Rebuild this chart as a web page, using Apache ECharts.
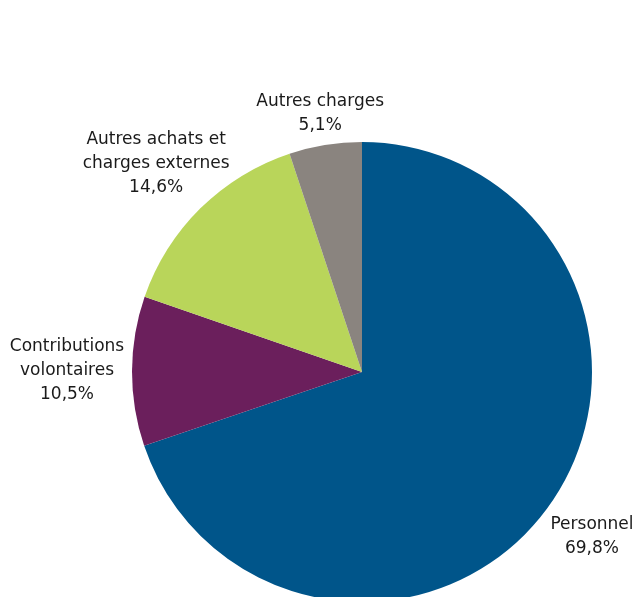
<!DOCTYPE html>
<html>
<head>
<meta charset="utf-8">
<script src="https://cdn.jsdelivr.net/npm/echarts@6/dist/echarts.min.js"></script>
<style>html,body{margin:0;padding:0;background:#fff}#c{width:638px;height:597px}</style>
</head>
<body>
<div id="c"></div>
<script>
const categories = ['Personnel', 'Contributions\nvolontaires', 'Autres achats et\ncharges externes', 'Autres charges'];
const values = [69.8, 10.5, 14.6, 5.1];
const valueLabels = ['69,8%', '10,5%', '14,6%', '5,1%'];
const colors = ['#00558a', '#6b1f5c', '#b9d55a', '#8a847f'];

const CX = 362, CY = 372, R = 230;
// distance of each label's centre from the pie centre (layout styling)
const labelDist = [283, 295, 293, 262];
const total = values.reduce((a, b) => a + b, 0);

const chart = echarts.init(document.getElementById('c'), null, {renderer: 'canvas'});
chart.setOption({
  animation: false,
  series: [{
    type: 'pie',
    center: [CX, CY],
    radius: [0, R],
    startAngle: 90,
    clockwise: true,
    data: categories.map((c, i) => ({name: c, value: values[i], itemStyle: {color: colors[i]}})),
    label: {
      show: true,
      position: 'outside',
      overflow: 'none',
      formatter: p => p.name + '\n' + valueLabels[p.dataIndex],
      fontFamily: 'DejaVu Sans',
      fontSize: 17,
      lineHeight: 24,
      color: '#1a1a1a',
      align: 'center'
    },
    labelLine: {show: false},
    emphasis: {disabled: true},
    labelLayout: function (p) {
      const i = p.dataIndex;
      let cum = 0;
      for (let k = 0; k < i; k++) cum += values[k];
      const mid = (cum + values[i] / 2) / total * 2 * Math.PI;
      const sx = Math.sin(mid), sy = -Math.cos(mid);
      const t = labelDist[i];
      return {x: CX + sx * t, y: CY + sy * t, align: 'center', verticalAlign: 'middle'};
    }
  }]
});
</script>
</body>
</html>
